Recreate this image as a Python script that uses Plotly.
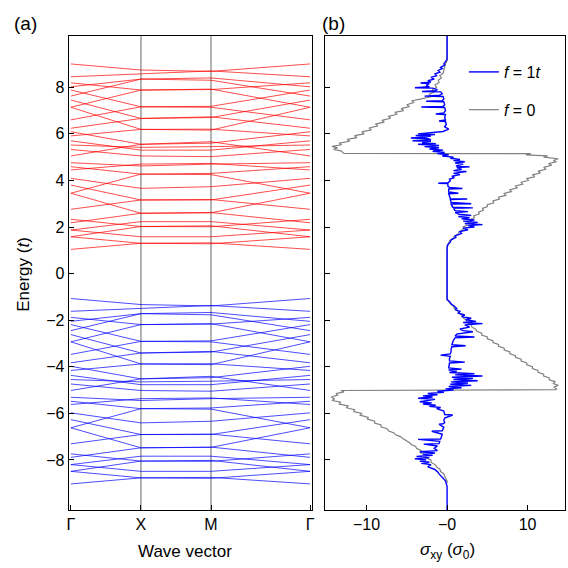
import plotly.graph_objects as go

# ---------------- data ----------------
k_ticks = [0.0, 1.0, 2.0, 3.414]
k_labels = ["Γ", "X", "M", "Γ"]

# red bands: energy at Γ, X, M (returns to Γ value)
red_G = [9.00, 8.45, 8.19, 8.02, 7.88, 7.62, 7.45, 7.14, 7.14, 6.60, 6.24, 6.09, 5.91, 5.70, 5.52, 5.33,
         5.05, 4.76, 4.59, 4.45, 4.09, 3.80, 3.45, 3.45, 2.76, 2.33, 2.18, 1.87, 1.58, 1.04, 1.87, 1.58]
red_X = [8.74, 8.57, 7.88, 8.35, 7.16, 8.35, 6.66, 7.88, 6.19, 7.16, 6.66, 5.55, 6.19, 5.30, 5.42, 5.05,
         5.55, 4.62, 4.27, 4.70, 3.66, 3.16, 4.27, 2.59, 3.16, 2.02, 2.59, 2.23, 2.02, 1.30, 1.58, 1.30]
red_M = [8.68, 8.70, 7.90, 8.40, 7.18, 8.30, 6.70, 7.92, 6.16, 7.14, 6.73, 5.60, 6.20, 5.30, 5.45, 5.02,
         5.66, 4.70, 4.30, 4.73, 3.73, 3.16, 4.25, 2.61, 3.18, 2.01, 2.62, 2.23, 2.05, 1.32, 1.58, 1.28]

blue_G = [-1.07, -1.62, -1.88, -2.05, -2.19, -2.45, -2.62, -2.93, -2.93, -3.47, -3.83, -3.98, -4.16, -4.37,
          -4.55, -4.74, -5.02, -5.31, -5.48, -5.62, -5.98, -6.27, -6.62, -6.62, -7.31, -7.74, -7.89, -8.20,
          -8.49, -9.03, -8.20, -8.49]
blue_X = [-1.33, -1.50, -2.19, -1.72, -2.91, -1.72, -3.41, -2.19, -3.88, -2.91, -3.41, -4.52, -3.88, -4.77,
          -4.65, -5.02, -4.52, -5.45, -5.80, -5.37, -6.41, -6.91, -5.80, -7.48, -6.91, -8.05, -7.48, -7.84,
          -8.05, -8.77, -8.49, -8.77]
blue_M = [-1.39, -1.37, -2.17, -1.67, -2.89, -1.77, -3.37, -2.15, -3.91, -2.93, -3.34, -4.47, -3.87, -4.77,
          -4.62, -5.05, -4.41, -5.37, -5.77, -5.34, -6.34, -6.91, -5.82, -7.46, -6.89, -8.06, -7.45, -7.84,
          -8.02, -8.75, -8.49, -8.79]

# Hall conductivity, f = 0 (grey)
f0_E = [10.2, 9.15, 9.0, 8.85, 8.7, 8.6, 8.5, 8.4, 8.3, 8.2, 8.1, 8.0, 7.9, 7.8, 7.7, 7.6, 7.5, 7.42, 7.35,
        7.25, 7.17, 7.08, 7.0, 6.92, 6.84, 6.75, 6.67, 6.58, 6.5, 6.42, 6.34, 6.25, 6.17, 6.08, 6.0, 5.92,
        5.84, 5.76, 5.68, 5.6, 5.53, 5.46, 5.4, 5.33, 5.27, 5.2, 5.16, 5.15, 5.1, 5.05, 5.0, 4.93, 4.85, 4.8,
        4.72, 4.65, 4.56, 4.48, 4.4, 4.32, 4.24, 4.16, 4.08, 4.0, 3.92, 3.84, 3.76, 3.68, 3.6, 3.52, 3.44,
        3.36, 3.28, 3.2, 3.12, 3.04, 2.96, 2.88, 2.8, 2.72, 2.64, 2.56, 2.48, 2.4, 2.32, 2.24, 2.16, 2.08,
        2.0, 1.9, 1.8, 1.7, 1.6, 1.5, 1.4, 1.3, 1.15, 1.0,
        -1.1, -1.2, -1.3, -1.4, -1.5, -1.6, -1.7, -1.8, -1.9, -2.0, -2.1, -2.2, -2.3, -2.4, -2.48, -2.56,
        -2.64, -2.72, -2.8, -2.88, -2.96, -3.04, -3.12, -3.2, -3.28, -3.36, -3.44, -3.52, -3.6, -3.68,
        -3.76, -3.84, -3.92, -4.0, -4.08, -4.16, -4.24, -4.32, -4.4, -4.48, -4.56, -4.64, -4.72, -4.8,
        -4.88, -4.96, -4.98, -5.02, -5.08, -5.15, -5.22, -5.3, -5.38, -5.45, -5.52, -5.6, -5.68, -5.76,
        -5.84, -5.92, -6.0, -6.08, -6.17, -6.25, -6.34, -6.42, -6.5, -6.58, -6.67, -6.75, -6.84, -6.92,
        -7.0, -7.08, -7.17, -7.25, -7.35, -7.42, -7.5, -7.6, -7.7, -7.8, -7.9, -8.0, -8.1, -8.2, -8.3,
        -8.4, -8.5, -8.6, -8.7, -8.8, -8.9, -9.0, -10.2]
f0_s = [0, 0, -0.2, -0.3, -0.4, -0.5, -0.9, -0.7, -1.1, -1.0, -1.5, -1.3, -1.8, -1.6, -2.2, -2.0, -3.2,
        -4.4, -4.1, -5.0, -4.7, -5.7, -5.4, -6.5, -6.2, -7.3, -7.0, -8.1, -7.8, -8.9, -8.6, -9.7, -9.4,
        -10.6, -10.3, -11.5, -11.2, -12.4, -12.1, -13.4, -13.1, -14.3, -13.6, -14.1, -13.2, -13.0, -12.8,
        10.4, 9.8, 12.5, 12.0, 13.8, 13.2, 13.6, 12.6, 13.0, 12.0, 12.3, 11.3, 11.6, 10.6, 10.9, 9.9, 10.1,
        9.2, 9.4, 8.5, 8.7, 7.8, 8.0, 7.1, 7.3, 6.4, 6.5, 5.7, 5.8, 5.0, 5.0, 4.4, 4.5, 3.9, 4.0, 3.3, 3.4,
        2.9, 3.0, 2.4, 2.5, 2.0, 2.0, 1.5, 1.4, 0.9, 0.7, 0.3, 0.2, 0.05, 0,
        0, 0.2, 0.4, 0.8, 0.9, 1.3, 1.4, 1.9, 2.0, 2.4, 2.5, 3.0, 3.1, 3.6, 3.7, 4.3, 4.3, 5.0, 5.0, 5.7,
        5.7, 6.4, 6.4, 7.1, 7.1, 7.8, 7.8, 8.5, 8.5, 9.2, 9.2, 9.9, 9.9, 10.6, 10.6, 11.3, 11.3, 12.0, 12.0,
        12.7, 12.7, 13.4, 13.2, 13.8, 13.3, 13.6, 13.5, -13.2, -12.8, -13.8, -13.6, -14.4, -14.0, -14.3,
        -13.2, -13.4, -12.3, -12.5, -11.5, -11.6, -10.6, -10.8, -9.8, -9.9, -9.0, -9.0, -8.2, -8.2, -7.4,
        -7.3, -6.6, -6.4, -5.8, -5.5, -5.0, -4.7, -4.4, -3.9, -3.8, -3.2, -3.3, -2.6, -2.7, -2.0, -2.0,
        -1.5, -1.3, -0.9, -0.8, -0.4, -0.3, -0.1, 0, 0]

# Hall conductivity, f = 1t (blue)
f1_E = [10.2, 9.2, 9.1, 9.0, 8.95, 8.85, 8.8, 8.72, 8.65, 8.58, 8.5, 8.42, 8.35, 8.28, 8.22, 8.18, 8.16,
        8.08, 8.02, 7.98, 7.96, 7.9, 7.85, 7.82, 7.8, 7.72, 7.66, 7.62, 7.6, 7.5, 7.42, 7.4, 7.38, 7.25,
        7.18, 7.15, 7.13, 7.0, 6.9, 6.85, 6.83, 6.7, 6.6, 6.55, 6.53, 6.4, 6.3, 6.2, 6.1, 6.05, 6.0, 5.97,
        5.93, 5.9, 5.85, 5.82, 5.8, 5.75, 5.7, 5.68, 5.62, 5.58, 5.55, 5.5, 5.45, 5.4, 5.35, 5.3, 5.25, 5.2,
        5.15, 5.1, 5.05, 5.0, 4.95, 4.9, 4.85, 4.8, 4.75, 4.7, 4.62, 4.58, 4.55, 4.48, 4.42, 4.38, 4.3,
        4.25, 4.18, 4.12, 4.05, 3.98, 3.9, 3.88, 3.86, 3.75, 3.7, 3.65, 3.63, 3.5, 3.45, 3.43, 3.3, 3.22,
        3.2, 3.18, 3.05, 3.0, 2.98, 2.85, 2.82, 2.8, 2.7, 2.66, 2.62, 2.55, 2.5, 2.45, 2.4, 2.35, 2.3, 2.25,
        2.2, 2.15, 2.1, 2.06, 2.0, 1.95, 1.88, 1.8, 1.72, 1.62, 1.55, 1.45, 1.35, 1.25, 1.17,
        -1.12, -1.2, -1.3, -1.4, -1.5, -1.55, -1.62, -1.7, -1.78, -1.85, -1.92, -1.98, -2.05, -2.1, -2.15,
        -2.2, -2.3, -2.38, -2.45, -2.5, -2.6, -2.68, -2.72, -2.76, -2.85, -2.95, -3.05, -3.1, -3.14, -3.25,
        -3.35, -3.45, -3.5, -3.55, -3.65, -3.75, -3.8, -3.84, -3.95, -4.05, -4.1, -4.14, -4.2, -4.25, -4.3,
        -4.35, -4.4, -4.45, -4.5, -4.55, -4.6, -4.65, -4.7, -4.75, -4.8, -4.85, -4.9, -4.95, -5.0, -5.05,
        -5.1, -5.15, -5.2, -5.25, -5.3, -5.35, -5.4, -5.45, -5.5, -5.55, -5.6, -5.65, -5.7, -5.75, -5.8,
        -5.9, -6.0, -6.05, -6.07, -6.2, -6.3, -6.4, -6.45, -6.47, -6.6, -6.7, -6.75, -6.77, -6.9, -7.0,
        -7.1, -7.12, -7.2, -7.3, -7.32, -7.4, -7.5, -7.6, -7.65, -7.7, -7.75, -7.8, -7.85, -7.9, -7.95,
        -8.0, -8.05, -8.1, -8.15, -8.2, -8.3, -8.4, -8.5, -8.6, -8.7, -8.8, -8.9, -9.13, -10.2]
f1_s = [0, 0, -0.2, -0.4, -0.3, -0.8, -0.6, -1.1, -0.9, -1.5, -1.3, -2.0, -1.6, -2.4, -2.0, -3.3, -2.2,
        -2.6, -2.2, -4.0, -1.8, -1.2, -1.5, -3.1, -0.8, -0.6, -0.9, -2.8, -0.5, -0.4, -0.6, -2.6, -0.4, -0.3,
        -0.5, -3.2, -0.3, -0.2, -0.4, -1.4, -0.2, -0.3, -0.2, -1.0, -0.2, -0.1, -0.3, 0.2, -0.5, -1.8, -3.6,
        -1.5, -3.9, -2.0, -3.0, -4.5, -2.5, -2.0, -4.3, -2.0, -3.1, -1.4, -3.6, -1.0, -2.8, -1.0, -2.2, -0.5,
        -1.8, -0.3, -1.2, 0.2, -0.6, 0.8, 0.4, 1.6, 0.8, 2.2, 1.0, 2.0, 1.1, 2.8, 1.2, 1.8, 0.8, 2.4, 0.8,
        1.6, 0.6, 0.9, 0.3, 0.4, 0.1, -1.1, 0.1, 0.1, 0.3, 1.9, 0.2, 0.2, 1.4, 0.2, 0.3, 0.4, 2.5, 0.4, 0.5,
        3.0, 0.5, 0.7, 3.2, 0.8, 1.0, 2.6, 1.0, 1.5, 3.0, 1.4, 2.8, 1.8, 3.4, 2.0, 3.8, 2.2, 4.4, 2.6, 3.4,
        2.0, 2.6, 1.6, 1.8, 1.0, 1.1, 0.5, 0.4, 0.1, 0,
        0, 0.3, 0.5, 0.9, 1.2, 1.0, 1.6, 1.4, 2.2, 1.8, 3.0, 2.3, 3.6, 2.0, 4.4, 2.2, 2.8, 1.6, 2.0, 3.2,
        1.2, 1.0, 3.4, 1.0, 0.8, 0.7, 0.6, 2.3, 0.6, 0.5, 0.5, 0.4, -0.8, 0.4, 0.3, 0.3, 2.2, 0.3, 0.2, 0.2,
        1.8, 0.2, 1.2, 0.3, 3.4, 1.0, 4.4, 0.6, 3.2, 0.8, 3.8, 0.5, 2.6, 0.4, 3.0, 0.2, 1.8, -0.2, 0.8, -1.2,
        -0.4, -2.4, -1.2, -3.0, -1.8, -3.6, -1.5, -2.8, -3.4, -1.9, -3.0, -1.4, -2.2, -0.8, -1.3, -0.4,
        -0.3, -0.3, 0.7, -0.3, -0.4, -0.3, -0.5, -1.0, -0.4, -0.5, -0.6, -1.9, -0.6, -0.7, -0.8, -3.6, -0.9,
        -1.0, -2.9, -1.2, -1.6, -1.2, -3.4, -1.5, -3.0, -1.8, -3.8, -2.2, -4.0, -2.6, -3.4, -2.2, -3.2, -2.0,
        -2.4, -1.6, -1.2, -1.0, -0.7, -0.4, -0.2, 0, 0]

sigma_ticks = [-10, 0, 10]
sigma_ticktext = ["−10", "−0", "10"]
energy_ticks = [-8, -6, -4, -2, 0, 2, 4, 6, 8]
energy_ticktext = ["−8", "−6", "−4", "−2", "0", "2", "4", "6", "8"]

# ---------------- figure ----------------
FONT = "Liberation Sans, Arial, sans-serif"
W = H = 568
fig = go.Figure()

def band_xy(G, X, M):
    xs, ys = [], []
    for g, x, m in zip(G, X, M):
        xs += k_ticks + [None]
        ys += [g, x, m, g, None]
    return xs, ys

bx, by = band_xy(red_G, red_X, red_M)
fig.add_trace(go.Scatter(x=bx, y=by, mode="lines", line=dict(color="rgba(255,0,0,0.7)", width=1),
                         showlegend=False, xaxis="x", yaxis="y", hoverinfo="skip"))
bx, by = band_xy(blue_G, blue_X, blue_M)
fig.add_trace(go.Scatter(x=bx, y=by, mode="lines", line=dict(color="rgba(0,0,255,0.7)", width=1),
                         showlegend=False, xaxis="x", yaxis="y", hoverinfo="skip"))

fig.add_trace(go.Scatter(x=f0_s, y=f0_E, mode="lines", line=dict(color="#808080", width=1.2),
                         name="<i>f</i> = 0", xaxis="x2", yaxis="y2", legendrank=2, legendgroup="g0"))
fig.add_trace(go.Scatter(x=f1_s, y=f1_E, mode="lines", line=dict(color="#0000ff", width=1.4),
                         name="<i>f</i> = 1<i>t</i>", xaxis="x2", yaxis="y2", legendrank=1, legendgroup="g1"))

ydom = [1 - 510 / H, 1 - 36 / H]
axis_common = dict(showgrid=False, zeroline=False, showline=True, linecolor="black", linewidth=1,
                   mirror=True, ticks="inside", ticklen=5, tickcolor="black",
                   tickfont=dict(family=FONT, size=16, color="black"))

fig.update_layout(
    width=W, height=H, margin=dict(l=0, r=0, t=0, b=0),
    paper_bgcolor="white", plot_bgcolor="white",
    font=dict(family=FONT, size=16, color="black"),
    xaxis=dict(domain=[67.3 / W, 312.3 / W], range=[-0.031, 3.435], tickvals=k_ticks, ticktext=k_labels,
               **axis_common),
    yaxis=dict(domain=ydom, range=[-10.15, 10.2], tickvals=energy_ticks, ticktext=energy_ticktext,
               **axis_common),
    xaxis2=dict(domain=[326 / W, 1.0], range=[-15.15, 14.65], tickvals=sigma_ticks, ticktext=sigma_ticktext,
                anchor="y2", **axis_common),
    yaxis2=dict(domain=ydom, range=[-10.15, 10.2], tickvals=energy_ticks, showticklabels=False,
                anchor="x2", **axis_common),
    legend=dict(x=466 / W, y=1 - 55 / H, xanchor="left", yanchor="top", bgcolor="rgba(0,0,0,0)",
                font=dict(family=FONT, size=16), itemwidth=30, tracegroupgap=14),
    shapes=[dict(type="line", xref="x", yref="paper", x0=1, x1=1, y0=ydom[0], y1=ydom[1],
                 line=dict(color="#999999", width=1.5), layer="below"),
            dict(type="line", xref="x", yref="paper", x0=2, x1=2, y0=ydom[0], y1=ydom[1],
                 line=dict(color="#999999", width=1.5), layer="below")],
    annotations=[
        dict(text="(a)", x=10 / W, y=1 - 23 / H, xref="paper", yref="paper", xanchor="left",
             yanchor="middle", showarrow=False, font=dict(size=19)),
        dict(text="(b)", x=321 / W, y=1 - 23 / H, xref="paper", yref="paper", xanchor="left",
             yanchor="middle", showarrow=False, font=dict(size=19)),
        dict(text="Energy (<i>t</i>)", x=21 / W, y=1 - 274 / H, xref="paper", yref="paper",
             xanchor="center", yanchor="middle", textangle=-90, showarrow=False, font=dict(size=17)),
        dict(text="Wave vector", x=185 / W, y=1 - 551 / H, xref="paper", yref="paper",
             xanchor="center", yanchor="middle", showarrow=False, font=dict(size=17)),
        dict(text="<i>σ</i><sub>xy</sub> (<i>σ</i><sub>0</sub>)", x=449 / W, y=1 - 551 / H,
             xref="paper", yref="paper", xanchor="center", yanchor="middle", showarrow=False,
             font=dict(size=17)),
    ],
)

fig.write_html("out.html", config={"displayModeBar": False},
               post_script="document.body.style.margin='0';document.body.style.overflow='hidden';")
